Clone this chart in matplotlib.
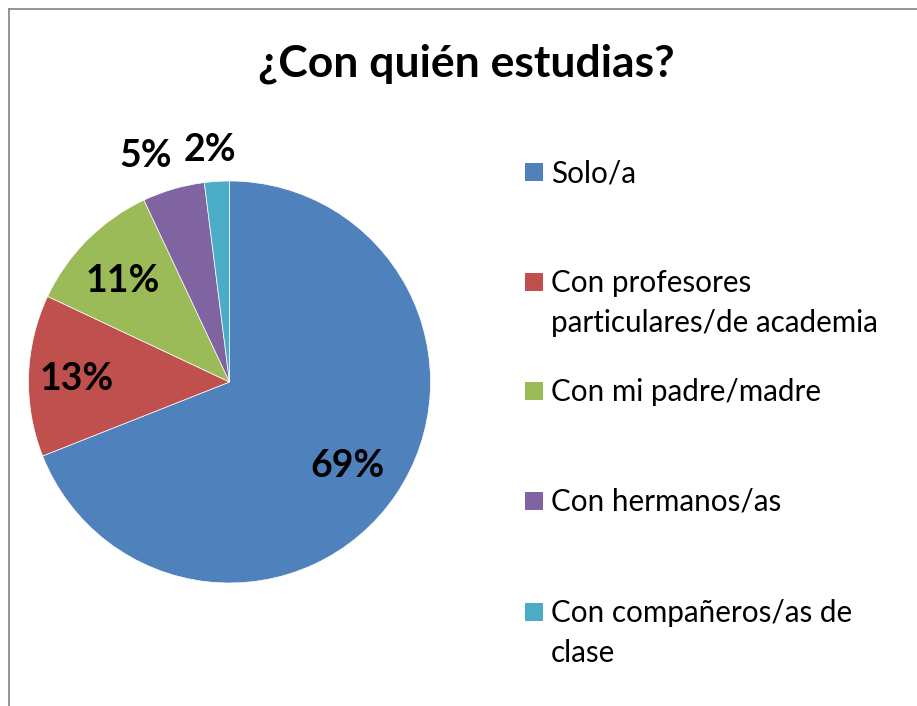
import matplotlib
matplotlib.use("Agg")
import matplotlib.pyplot as plt
from matplotlib.patches import Rectangle
from matplotlib.lines import Line2D
import numpy as np

title = "¿Con quién estudias?"
categories = ["Solo/a", "Con profesores\nparticulares/de academia", "Con mi padre/madre",
              "Con hermanos/as", "Con compañeros/as de\nclase"]
values = [69, 13, 11, 5, 2]
pct_labels = ["69%", "13%", "11%", "5%", "2%"]
colors = ["#4F81BD", "#C0504D", "#9BBB59", "#8064A2", "#4BACC6"]
label_dist = [0.72, 0.76, 0.73, 1.20, 1.16]
label_ang_off = [-1.5, 0.5, 1.5, 4.2, 1.2]

W, H = 917, 706
plt.rcParams['font.family'] = ['Lato', 'DejaVu Sans']
fig = plt.figure(figsize=(W / 100, H / 100), dpi=100)

def fx(px):
    return px / W

def fy(py):
    return 1 - py / H

# border
fig.add_artist(Line2D([fx(8.5), 1.0], [fy(9), fy(9)], color="#8c8c8c", lw=1.3))
fig.add_artist(Line2D([fx(8.5), fx(8.5)], [fy(9), 0.0], color="#8c8c8c", lw=1.3))

# pie axes
cx, cy, r = 229.5, 382, 201
ax = fig.add_axes([fx(cx - r), fy(cy + r), 2 * r / W, 2 * r / H])
wedges, _ = ax.pie(values, colors=colors, startangle=90, counterclock=False,
                   radius=1.0, wedgeprops=dict(linewidth=0.5, edgecolor="white"))
ax.set_xlim(-1, 1)
ax.set_ylim(-1, 1)
ax.set_aspect("equal")
ax.axis("off")

for w, lab, d, off in zip(wedges, pct_labels, label_dist, label_ang_off):
    ang = np.deg2rad((w.theta1 + w.theta2) / 2 + off)
    ax.text(d * np.cos(ang), d * np.sin(ang), lab, ha="center", va="center",
            fontsize=27, fontweight="bold", color="black")

# title
fig.text(fx(466.5), fy(77), title, ha="center", va="baseline",
         fontsize=32, fontweight="bold", color="black")

# legend
baselines = [182, 292, 401, 511, 622]
line_gap = 40
for lab, col, b in zip(categories, colors, baselines):
    fig.add_artist(Rectangle((fx(525), fy(b - 1)), 18 / W, 18 / H,
                             transform=fig.transFigure, facecolor=col, edgecolor="none"))
    for i, line in enumerate(lab.split("\n")):
        fig.text(fx(551), fy(b + i * line_gap), line, ha="left", va="baseline",
                 fontsize=21.3, color="black")

fig.savefig("out.png", dpi=100, facecolor="white")
